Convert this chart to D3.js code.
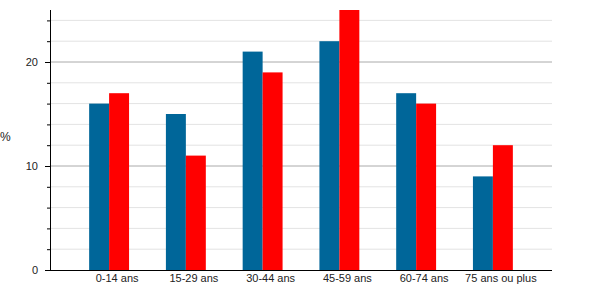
<!DOCTYPE html>
<html>
<head>
<meta charset="utf-8">
<script src="https://cdn.jsdelivr.net/npm/d3@7"></script>
<style>
	body { margin: 0; background: #fff; }
	text { font-family: "Liberation Sans", Arial, sans-serif; }
</style>
</head>
<body>
<svg id="chart" width="600" height="300"></svg>
<script>
const categories = ["0-14 ans", "15-29 ans", "30-44 ans", "45-59 ans", "60-74 ans", "75 ans ou plus"]
const seriesA = [16, 15, 21, 22, 17, 9]
const seriesB = [17, 11, 19, 25, 16, 12]
const majorTicks = [0, 10, 20]
const minorTicks = d3.range(0, 26, 2)

const colours = ["#006699", "#ff0000"]
const margin = { top: 10, right: 48, bottom: 30, left: 50 }
const width = 600, height = 300

const svg = d3.select("#chart")

const x = d3.scaleBand()
	.domain(categories)
	.range([margin.left, width - margin.right])
	.paddingInner(0.48)
	.paddingOuter(0.51)

const y = d3.scaleLinear()
	.domain([0, 25])
	.range([height - margin.bottom, margin.top])

const sub = d3.scaleBand()
	.domain([0, 1])
	.range([0, x.bandwidth()])

// Minor gridlines, then major ones
svg.append("g")
	.selectAll("line")
	.data(minorTicks.filter(v => v > 0 && !majorTicks.includes(v)))
	.join("line")
	.attr("x1", margin.left)
	.attr("x2", width - margin.right)
	.attr("y1", d => y(d))
	.attr("y2", d => y(d))
	.attr("stroke", "#e3e3e3")

svg.append("g")
	.selectAll("line")
	.data(majorTicks.filter(v => v > 0))
	.join("line")
	.attr("x1", margin.left)
	.attr("x2", width - margin.right)
	.attr("y1", d => y(d))
	.attr("y2", d => y(d))
	.attr("stroke", "#aaaaaa")

// Bars
const groups = svg.append("g")
	.selectAll("g")
	.data(categories.map((c, i) => ({ c, v: [seriesA[i], seriesB[i]] })))
	.join("g")
	.attr("transform", d => `translate(${x(d.c)},0)`)

groups.selectAll("rect")
	.data(d => d.v)
	.join("rect")
	.attr("x", (d, i) => sub(i))
	.attr("width", sub.bandwidth())
	.attr("y", d => y(d))
	.attr("height", d => y(0) - y(d))
	.attr("fill", (d, i) => colours[i])

// Y axis: minor ticks without labels, major ticks labelled
svg.append("g")
	.attr("transform", `translate(${margin.left},0)`)
	.call(d3.axisLeft(y).tickValues(minorTicks).tickSize(3).tickFormat(""))
	.call(g => g.select(".domain").remove())

svg.append("g")
	.attr("transform", `translate(${margin.left},0)`)
	.call(d3.axisLeft(y).tickValues(majorTicks).tickSize(5).tickPadding(7))
	.call(g => g.select(".domain").remove())
	.call(g => g.selectAll("text").attr("font-size", 11).attr("fill", "#222"))

svg.append("line")
	.attr("x1", margin.left + 0.5)
	.attr("x2", margin.left + 0.5)
	.attr("y1", margin.top)
	.attr("y2", y(0))
	.attr("stroke", "#000")

// X axis
svg.append("g")
	.attr("transform", `translate(0,${y(0)})`)
	.call(d3.axisBottom(x).tickSize(0).tickPadding(4))
	.call(g => g.select(".domain")
		.attr("d", `M${margin.left},0.5H${width - margin.right}`)
		.attr("stroke", "#000"))
	.call(g => g.selectAll("text")
		.attr("font-size", 11)
		.attr("fill", "#222")
		.attr("dx", 8))

svg.append("text")
	.attr("x", 0)
	.attr("y", 141)
	.attr("font-size", 12)
	.attr("fill", "#222")
	.text("%")
</script>
</body>
</html>
